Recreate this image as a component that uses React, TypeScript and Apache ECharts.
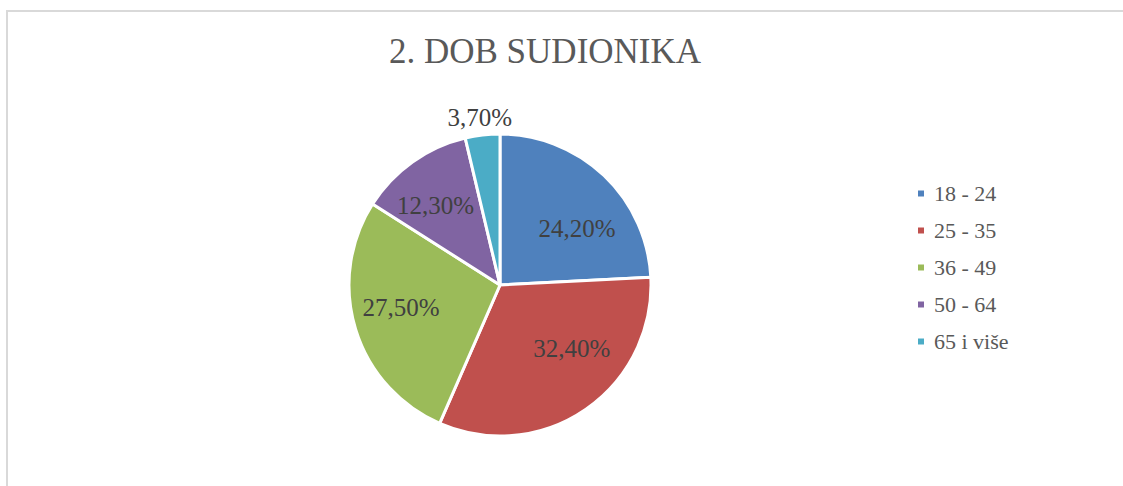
import React, { useEffect, useRef } from "react";
import * as echarts from "echarts";

const titleText = "2. DOB SUDIONIKA";
const categories = ["18 - 24", "25 - 35", "36 - 49", "50 - 64", "65 i više"];
const values = [24.2, 32.4, 27.5, 12.3, 3.7];
const valueLabels = ["24,20%", "32,40%", "27,50%", "12,30%", "3,70%"];
const colors = ["#4F81BD", "#C0504D", "#9BBB59", "#8064A2", "#4BACC6"];

const FONT = "'Liberation Serif', 'DejaVu Serif', serif";

export default function App() {
  const ref = useRef<HTMLDivElement>(null);
  useEffect(() => {
    if (!ref.current) return;
    document.documentElement.style.overflow = "hidden";
    document.body.style.overflow = "hidden";
    const chart = echarts.init(ref.current, undefined, { renderer: "svg" });
    const nudges = [
      [23, 0],
      [27, -1],
      [-24, 0],
      [-19, -16],
      [-11, -90],
    ];
    chart.setOption({
      animation: false,
      backgroundColor: "#ffffff",
      title: {
        text: titleText,
        left: 545,
        top: 34,
        padding: 0,
        textAlign: "center",
        textStyle: {
          fontFamily: FONT,
          fontSize: 35,
          fontWeight: "normal",
          color: "#595959",
        },
      },
      graphic: [
        {
          type: "line",
          z: -10,
          shape: { x1: 6, y1: 11, x2: 1123, y2: 11 },
          style: { stroke: "#d9d9d9", lineWidth: 2 },
          silent: true,
        },
        {
          type: "line",
          z: -10,
          shape: { x1: 7, y1: 10, x2: 7, y2: 486 },
          style: { stroke: "#d9d9d9", lineWidth: 2 },
          silent: true,
        },
      ],
      legend: {
        orient: "vertical",
        left: 916,
        top: 182.5,
        padding: 0,
        itemWidth: 8,
        itemHeight: 8,
        itemGap: 15,
        icon: "rect",
        data: categories,
        textStyle: {
          fontFamily: FONT,
          fontSize: 22,
          lineHeight: 22,
          color: "#595959",
          padding: [0, 0, 0, 4],
        },
      },
      series: [
        {
          type: "pie",
          center: [500, 285],
          radius: [0, 151],
          startAngle: 90,
          clockwise: true,
          avoidLabelOverlap: false,
          itemStyle: { borderColor: "#ffffff", borderWidth: 3 },
          label: {
            show: true,
            position: "inside",
            fontFamily: FONT,
            fontSize: 25,
            color: "#404040",
            formatter: (p: any) => valueLabels[p.dataIndex],
          },
          labelLine: { show: false },
          labelLayout: (p: any) => {
            const n = nudges[p.dataIndex];
            return { dx: n[0], dy: n[1] };
          },
          emphasis: { disabled: true },
          data: categories.map((name, i) => ({
            name,
            value: values[i],
            itemStyle: { color: colors[i] },
          })),
        },
      ],
    });
    return () => chart.dispose();
  }, []);
  return (
    <div
      ref={ref}
      style={{ position: "absolute", left: 0, top: 0, width: 1123, height: 486 }}
    />
  );
}
